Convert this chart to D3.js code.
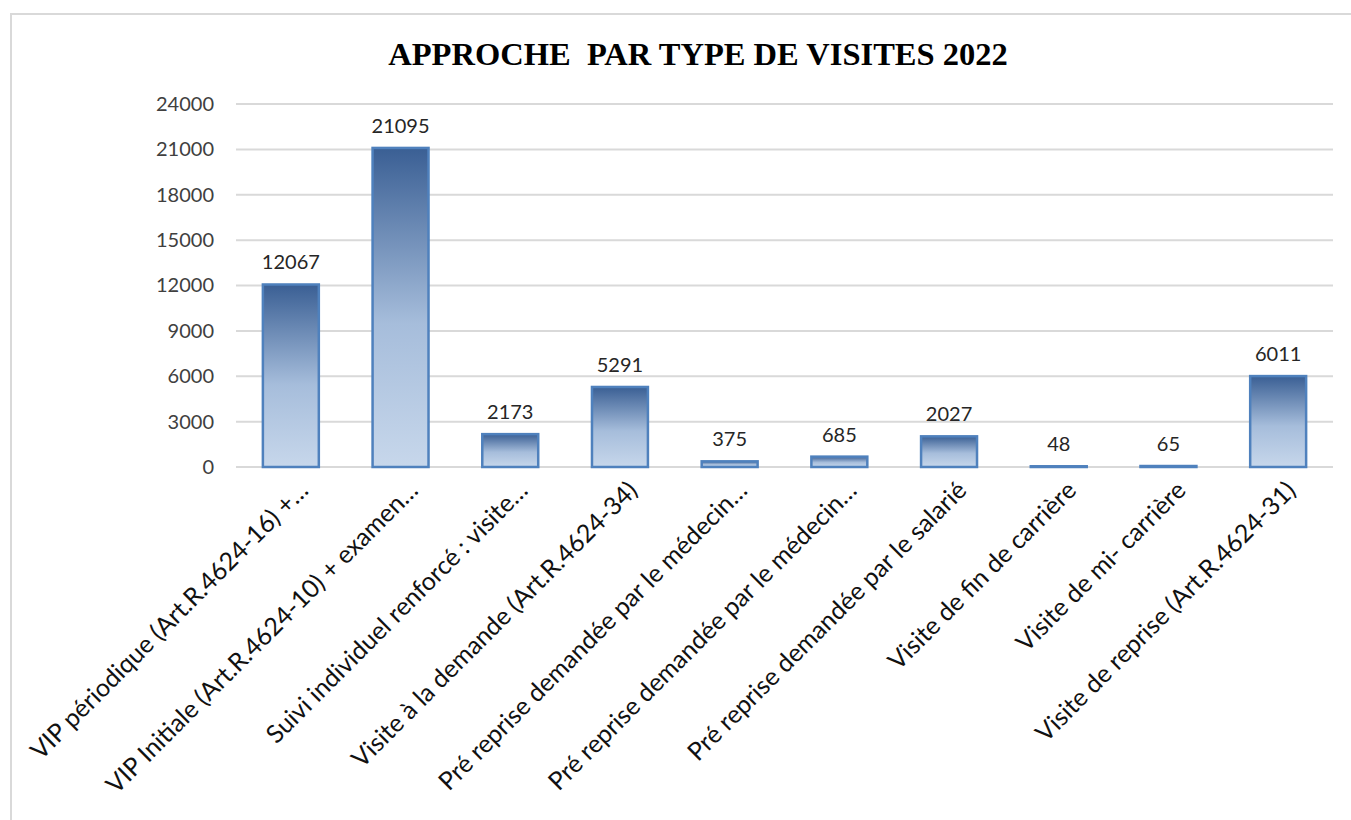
<!DOCTYPE html>
<html><head><meta charset="utf-8">
<script src="https://cdn.jsdelivr.net/npm/d3@7/dist/d3.min.js"></script>
<style>
html,body{margin:0;padding:0;background:#fff;}
svg{display:block;}
</style></head>
<body>
<svg id="chart" width="1351" height="820"></svg>
<script>
const title = "APPROCHE\u00a0 PAR TYPE DE VISITES 2022";
const categories = [
  "VIP périodique (Art.R.4624-16) +…",
  "VIP Initiale (Art.R.4624-10) + examen…",
  "Suivi individuel renforcé : visite…",
  "Visite à la demande (Art.R.4624-34)",
  "Pré reprise demandée par le médecin…",
  "Pré reprise demandée par le médecin…",
  "Pré reprise demandée par le salarié",
  "Visite de fin de carrière",
  "Visite de mi- carrière",
  "Visite de reprise (Art.R.4624-31)"
];
const values = [12067, 21095, 2173, 5291, 375, 685, 2027, 48, 65, 6011];
const yTicks = [0, 3000, 6000, 9000, 12000, 15000, 18000, 21000, 24000];

const svg = d3.select("#chart");
const plotLeft = 236, plotRight = 1333, plotTop = 104, plotBottom = 467;
const font = "Lato, 'Open Sans', sans-serif";

// frame
svg.append("rect").attr("x", 11).attr("y", 14).attr("width", 1400).attr("height", 900)
  .attr("fill", "#fff").attr("stroke", "#d9d9d9").attr("stroke-width", 2);

const defs = svg.append("defs");
const grad = defs.append("linearGradient").attr("id", "barGrad")
  .attr("x1", 0).attr("y1", 0).attr("x2", 0).attr("y2", 1);
grad.append("stop").attr("offset", "0").attr("stop-color", "#3a5f94");
grad.append("stop").attr("offset", "0.55").attr("stop-color", "#a6bddb");
grad.append("stop").attr("offset", "1").attr("stop-color", "#c7d7eb");

const x = d3.scaleBand().domain(d3.range(categories.length)).range([plotLeft, plotRight])
  .paddingInner(0.49).paddingOuter(0.245);
const y = d3.scaleLinear().domain([0, 24000]).range([plotBottom, plotTop]);

// gridlines
svg.append("g").selectAll("line").data(yTicks).join("line")
  .attr("x1", plotLeft).attr("x2", plotRight)
  .attr("y1", d => y(d)).attr("y2", d => y(d))
  .attr("stroke", "#d9d9d9").attr("stroke-width", 2);

// y axis labels
const yAxis = d3.axisLeft(y).tickValues(yTicks).tickSize(0).tickPadding(22).tickFormat(d3.format("d"));
const gy = svg.append("g").attr("transform", `translate(${plotLeft},0)`).call(yAxis);
gy.select(".domain").remove();
gy.selectAll("text").attr("font-family", font).attr("font-size", 20).attr("fill", "#404040");

// bars
svg.append("g").selectAll("rect").data(values).join("rect")
  .attr("x", (d, i) => x(i)).attr("width", x.bandwidth())
  .attr("y", d => y(d)).attr("height", d => Math.max(0.5, y(0) - y(d)))
  .attr("fill", "url(#barGrad)").attr("stroke", "#4f81bd").attr("stroke-width", 2.5);

// value labels
svg.append("g").selectAll("text").data(values).join("text")
  .attr("x", (d, i) => x(i) + x.bandwidth() / 2).attr("y", d => y(d) - 15)
  .attr("text-anchor", "middle").attr("font-family", font).attr("font-size", 20)
  .attr("fill", "#262626").text(d => d);

// category labels
svg.append("g").selectAll("text").data(categories).join("text")
  .attr("transform", (d, i) => `translate(${x(i) + x.bandwidth() / 2 + 19},${plotBottom + 25}) rotate(-45)`)
  .attr("text-anchor", "end").attr("font-family", font).attr("font-size", 25)
  .attr("fill", "#111").text(d => d);

// title
svg.append("text").attr("x", 698).attr("y", 65).attr("text-anchor", "middle")
  .attr("font-family", "'Liberation Serif', 'Times New Roman', serif").attr("font-weight", "bold")
  .attr("font-size", 32.5).attr("fill", "#000").style("white-space", "pre").text(title);
</script>
</body></html>
